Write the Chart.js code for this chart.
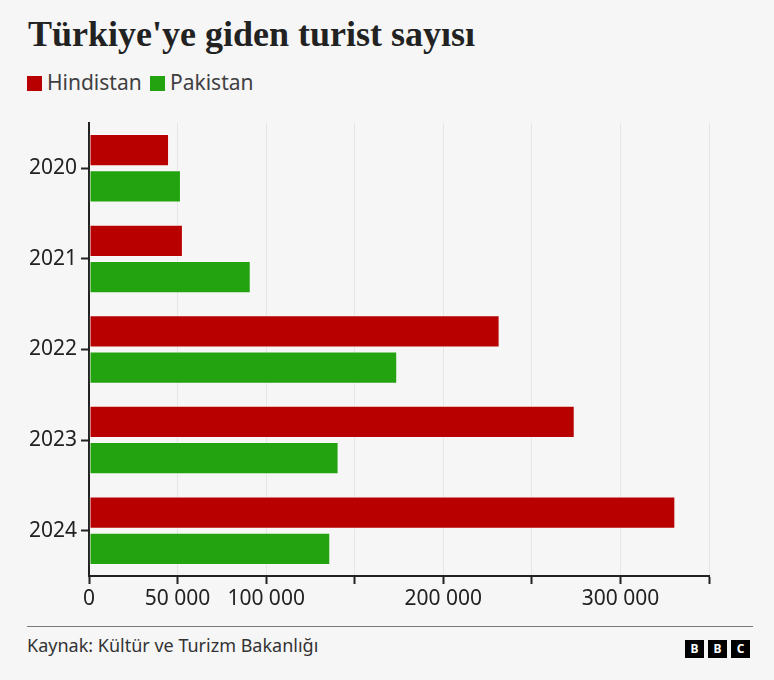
<!DOCTYPE html>
<html><head><meta charset="utf-8">
<script src="https://cdn.jsdelivr.net/npm/chart.js@4"></script>
<style>
html,body{margin:0;padding:0;background:#f6f6f6;}
body{width:774px;height:680px;position:relative;overflow:hidden;font-family:'Noto Sans',sans-serif;}
#title{position:absolute;left:28px;top:16px;font:bold 36px/36px 'Liberation Serif',serif;color:#222;margin:0;white-space:nowrap;}
.leg{position:absolute;top:72px;font:21px/21px 'Noto Sans',sans-serif;color:#3f3f42;white-space:nowrap;}
.sw{position:absolute;width:15px;height:15px;top:76px;}
#wrap{position:absolute;left:0;top:100px;width:774px;height:520px;}
#rule{position:absolute;left:27px;top:626px;width:726px;height:1px;background:#7a7a7a;}
#src{position:absolute;left:27px;top:636px;font:18px/18px 'Noto Sans',sans-serif;color:#333;white-space:nowrap;}
.b{position:absolute;top:640px;width:19px;height:18px;background:#000;color:#fff;font:bold 12px/18px 'Noto Sans',sans-serif;text-align:center;}
</style></head>
<body>
<div id="title">Türkiye'ye giden turist sayısı</div>
<div id="legend"></div>
<div id="wrap"><canvas id="c" width="774" height="520"></canvas></div>
<div id="rule"></div>
<div id="src">Kaynak: Kültür ve Turizm Bakanlığı</div>
<div class="b" style="left:685px">B</div>
<div class="b" style="left:708px">B</div>
<div class="b" style="left:731px">C</div>
<script>
const categories = ['2020', '2021', '2022', '2023', '2024'];
const seriesNames = ['Hindistan', 'Pakistan'];
const hindistan = [45200, 53000, 231800, 274200, 331000];
const pakistan = [51900, 91300, 174000, 140900, 136200];
const xTickValues = [0, 50000, 100000, 150000, 200000, 250000, 300000, 350000];
const xTickLabels = ['0', '50 000', '100 000', '', '200 000', '', '300 000', ''];
const seriesColors = ['#b80000', '#22a30f'];

// legend
const legend = document.getElementById('legend');
const legendPos = [[27, 47], [150, 170]];
seriesNames.forEach((n, i) => {
  const sw = document.createElement('div');
  sw.className = 'sw'; sw.style.left = legendPos[i][0] + 'px'; sw.style.background = seriesColors[i];
  const t = document.createElement('div');
  t.className = 'leg'; t.style.left = legendPos[i][1] + 'px'; t.textContent = n;
  legend.appendChild(sw); legend.appendChild(t);
});

const seriesData = [hindistan, pakistan];
new Chart(document.getElementById('c'), {
  type: 'bar',
  data: {
    labels: categories,
    datasets: seriesNames.map((n, i) => ({
      label: n,
      data: seriesData[i],
      backgroundColor: seriesColors[i],
      borderColor: 'rgba(255,255,255,0.3)',
      borderWidth: 1,
      borderSkipped: false,
      categoryPercentage: 0.8,
      barPercentage: 0.89
    }))
  },
  options: {
    indexAxis: 'y',
    responsive: false,
    animation: false,
    devicePixelRatio: 1,
    layout: { padding: { top: 23, right: 65, left: 0, bottom: 0 } },
    plugins: { legend: { display: false }, tooltip: { enabled: false } },
    scales: {
      x: {
        type: 'linear', min: 0, max: 350000,
        afterBuildTicks: s => { s.ticks = xTickValues.map(v => ({ value: v })); },
        afterFit: s => { s.height = 44; },
        ticks: {
          autoSkip: false, maxRotation: 0, padding: 2,
          color: '#222', font: { family: 'Noto Sans', size: 21 },
          callback: (v) => { const k = xTickValues.indexOf(v); return k >= 0 ? xTickLabels[k] : ''; }
        },
        grid: { color: '#e6e6e6', lineWidth: 1, tickLength: 8, tickColor: '#222', tickWidth: 2 },
        border: { color: '#222', width: 2 }
      },
      y: {
        afterFit: s => { s.width = 89; },
        ticks: { color: '#222', padding: 4, font: { family: 'Noto Sans', size: 21 } },
        grid: { offset: false, drawOnChartArea: false, tickLength: 8, tickColor: '#222', tickWidth: 2 },
        border: { color: '#222', width: 2 }
      }
    }
  }
});
</script>
</body></html>
